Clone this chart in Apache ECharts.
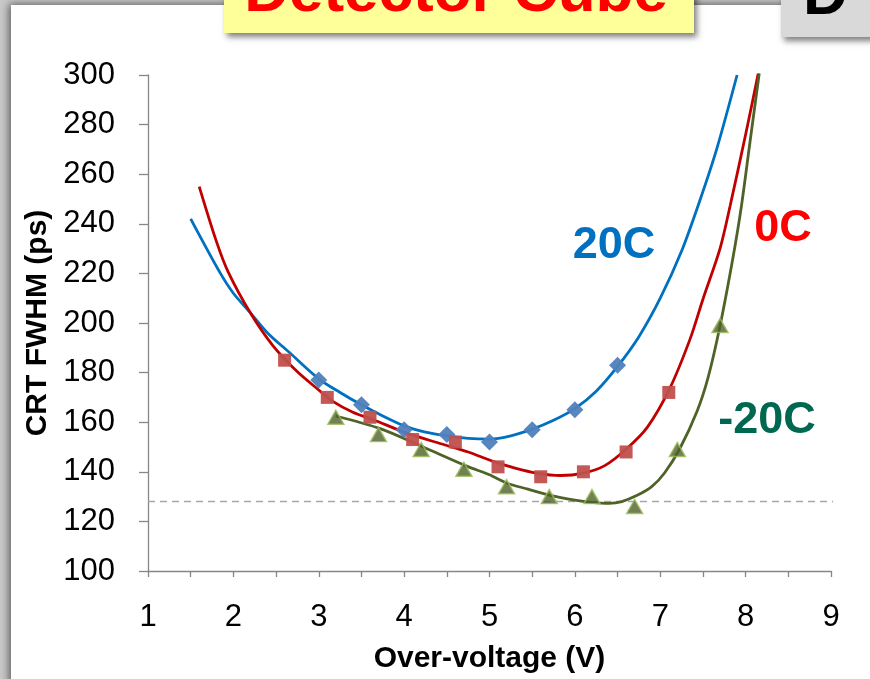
<!DOCTYPE html>
<html>
<head>
<meta charset="utf-8">
<script src="https://cdn.jsdelivr.net/npm/echarts@6/dist/echarts.min.js"></script>
<style>
html,body{margin:0;padding:0;background:#fff;overflow:hidden;}
#c{width:870px;height:679px;}
</style>
</head>
<body>
<div id="c"></div>
<script>
// ---- data ----
const xTicks = [1, 2, 3, 4, 5, 6, 7, 8, 9];
const yTicks = [100, 120, 140, 160, 180, 200, 220, 240, 260, 280, 300];

// measured points
const pts20X = [3.0, 3.5, 4.0, 4.5, 5.0, 5.5, 6.0, 6.5];
const pts20Y = [177, 167, 157, 155, 152, 157, 165, 183];
const pts0X = [2.6, 3.1, 3.6, 4.1, 4.6, 5.1, 5.6, 6.1, 6.6, 7.1];
const pts0Y = [185, 170, 162, 153, 152, 142, 138, 140, 148, 172];
const ptsM20X = [3.2, 3.7, 4.2, 4.7, 5.2, 5.7, 6.2, 6.7, 7.2, 7.7];
const ptsM20Y = [162, 155, 149, 141, 134, 130, 130, 126, 149, 199];

// fitted curves
const fit20X = [1.5, 1.84, 2.0, 2.19, 2.4, 2.66, 3.0, 3.25, 3.5, 3.75, 4.0, 4.25, 4.5, 4.75, 5.0, 5.25, 5.5, 5.75, 6.0, 6.25, 6.5, 6.75, 7.0, 7.25, 7.47, 7.66, 7.9];
const fit20Y = [242, 220.5, 212, 204.5, 196, 188, 177.5, 172, 167, 162.5, 158.5, 156, 154.5, 153.5, 153.2, 154.5, 157.2, 160.8, 165.5, 172.5, 182.5, 194.5, 210, 229, 250, 270, 300];
const fit0X = [1.6, 1.8, 1.94, 2.2, 2.46, 2.75, 3.0, 3.17, 3.4, 3.64, 4.0, 4.42, 4.75, 5.04, 5.3, 5.55, 5.83, 6.1, 6.35, 6.61, 6.85, 7.11, 7.35, 7.5, 7.7, 7.82, 8.0, 8.15];
const fit0Y = [255, 233, 220.5, 204, 191, 180.3, 173, 168.3, 164, 161, 156, 151.4, 148, 144.2, 141.5, 139.5, 138.5, 139.5, 142.5, 149.4, 158, 173.5, 193.6, 209.6, 230, 247.5, 276, 301];
const fitM20X = [3.2, 3.72, 4.21, 4.74, 5.0, 5.2, 5.45, 5.71, 6.0, 6.2, 6.4, 6.55, 6.73, 6.9, 7.05, 7.23, 7.43, 7.56, 7.7, 7.85, 7.95, 8.05, 8.16];
const fitM20Y = [162.5, 157.4, 150.2, 142.2, 138.8, 135.5, 133, 130.5, 128.6, 127.7, 127.3, 128, 130.5, 134, 139.5, 149.4, 164.3, 178, 198.8, 226, 247, 272.7, 300.8];

const refX = [1, 9.28];
const refY = [128, 128];

const seriesNames = ['20C', '0C', '-20C'];

// ---- build ----
const zip = (xs, ys) => xs.map((x, i) => [x, ys[i]]);
const FONT = "'Liberation Sans',Arial,sans-serif";
const AX = '#868686';

const chart = echarts.init(document.getElementById('c'), null, {renderer: 'canvas'});
chart.setOption({
  animation: false,
  backgroundColor: '#c9c9c9',
  grid: {left: 148, right: 39, top: 75, bottom: 101, containLabel: false},
  xAxis: {
    type: 'value', min: xTicks[0], max: xTicks[xTicks.length - 1], interval: 1,
    name: 'Over-voltage (V)', nameLocation: 'middle', nameGap: 73,
    nameTextStyle: {fontFamily: FONT, fontWeight: 'bold', fontSize: 30, color: '#000'},
    axisLine: {lineStyle: {color: AX, width: 1.3}},
    axisTick: {length: 6, lineStyle: {color: AX, width: 1.3}},
    minorTick: {show: true, splitNumber: 2, length: 6, lineStyle: {color: AX, width: 1.3}},
    splitLine: {show: false},
    axisLabel: {fontFamily: FONT, fontSize: 31, color: '#000', margin: 31}
  },
  yAxis: {
    type: 'value', min: yTicks[0], max: yTicks[yTicks.length - 1], interval: 20,
    name: 'CRT FWHM (ps)', nameLocation: 'middle', nameGap: 85, nameRotate: 90,
    nameTextStyle: {fontFamily: FONT, fontWeight: 'bold', fontSize: 30, color: '#000'},
    axisLine: {show: true, lineStyle: {color: AX, width: 1.3}},
    axisTick: {show: true, length: 9, lineStyle: {color: AX, width: 1.3}},
    splitLine: {show: false},
    axisLabel: {fontFamily: FONT, fontSize: 31, color: '#000', margin: 33}
  },
  series: [
    {name: 'ref', type: 'line', data: zip(refX, refY), symbol: 'none', clip: false, silent: true,
      lineStyle: {color: '#a6a6a6', width: 1.6, type: [7, 5]}, z: 1},
    {name: seriesNames[0] + ' fit', type: 'line', data: zip(fit20X, fit20Y), symbol: 'none', smooth: 0.3,
      lineStyle: {color: '#0070C0', width: 2.8}, z: 3},
    {name: seriesNames[1] + ' fit', type: 'line', data: zip(fit0X, fit0Y), symbol: 'none', smooth: 0.3,
      lineStyle: {color: '#C00000', width: 2.8}, z: 3},
    {name: seriesNames[2] + ' fit', type: 'line', data: zip(fitM20X, fitM20Y), symbol: 'none', smooth: 0.3,
      lineStyle: {color: '#4F6228', width: 2.8}, z: 3},
    {name: seriesNames[0], type: 'scatter', data: zip(pts20X, pts20Y), symbol: 'diamond', symbolSize: [17, 17],
      itemStyle: {color: '#4F81BD', opacity: 0.95}, z: 4},
    {name: seriesNames[1], type: 'scatter', data: zip(pts0X, pts0Y), symbol: 'rect', symbolSize: 13,
      itemStyle: {color: '#C0504D', opacity: 0.95}, z: 4},
    {name: seriesNames[2], type: 'scatter', data: zip(ptsM20X, ptsM20Y), symbol: 'triangle', symbolSize: [16, 14],
      itemStyle: {color: '#4F6228', borderColor: '#9BBB59', borderWidth: 1.5}, z: 4}
  ],
  graphic: [
    {type: 'rect', z: -10, shape: {x: 11, y: 5, width: 900, height: 700},
      style: {fill: '#fff', shadowBlur: 8, shadowColor: 'rgba(0,0,0,0.55)', shadowOffsetX: -2, shadowOffsetY: -1}},
    {type: 'rect', z: 10, shape: {x: 224, y: -20, width: 470, height: 53},
      style: {fill: '#FFFF99', shadowBlur: 6, shadowColor: 'rgba(0,0,0,0.5)', shadowOffsetX: 3, shadowOffsetY: 4}},
    {type: 'text', z: 11, x: 456, y: 25,
      style: {text: 'Detector Cube', fill: '#FF0000', font: "bold 62px 'Liberation Sans', Arial, sans-serif",
        textAlign: 'center', textVerticalAlign: 'bottom'}},
    {type: 'rect', z: 10, shape: {x: 781, y: -20, width: 120, height: 57},
      style: {fill: '#D9D9D9', shadowBlur: 6, shadowColor: 'rgba(0,0,0,0.5)', shadowOffsetX: 3, shadowOffsetY: 4}},
    {type: 'text', z: 11, x: 803, y: 28,
      style: {text: 'D', fill: '#000', font: "bold 62px 'Liberation Sans', Arial, sans-serif",
        textAlign: 'left', textVerticalAlign: 'bottom'}},
    {type: 'text', z: 11, x: 614, y: 246,
      style: {text: seriesNames[0], fill: '#0070C0', font: "bold 45px 'Liberation Sans', Arial, sans-serif",
        textAlign: 'center', textVerticalAlign: 'middle'}},
    {type: 'text', z: 11, x: 783, y: 229,
      style: {text: seriesNames[1], fill: '#FF0000', font: "bold 45px 'Liberation Sans', Arial, sans-serif",
        textAlign: 'center', textVerticalAlign: 'middle'}},
    {type: 'text', z: 11, x: 767, y: 421,
      style: {text: seriesNames[2], fill: '#006850', font: "bold 45px 'Liberation Sans', Arial, sans-serif",
        textAlign: 'center', textVerticalAlign: 'middle'}}
  ]
});
</script>
</body>
</html>
